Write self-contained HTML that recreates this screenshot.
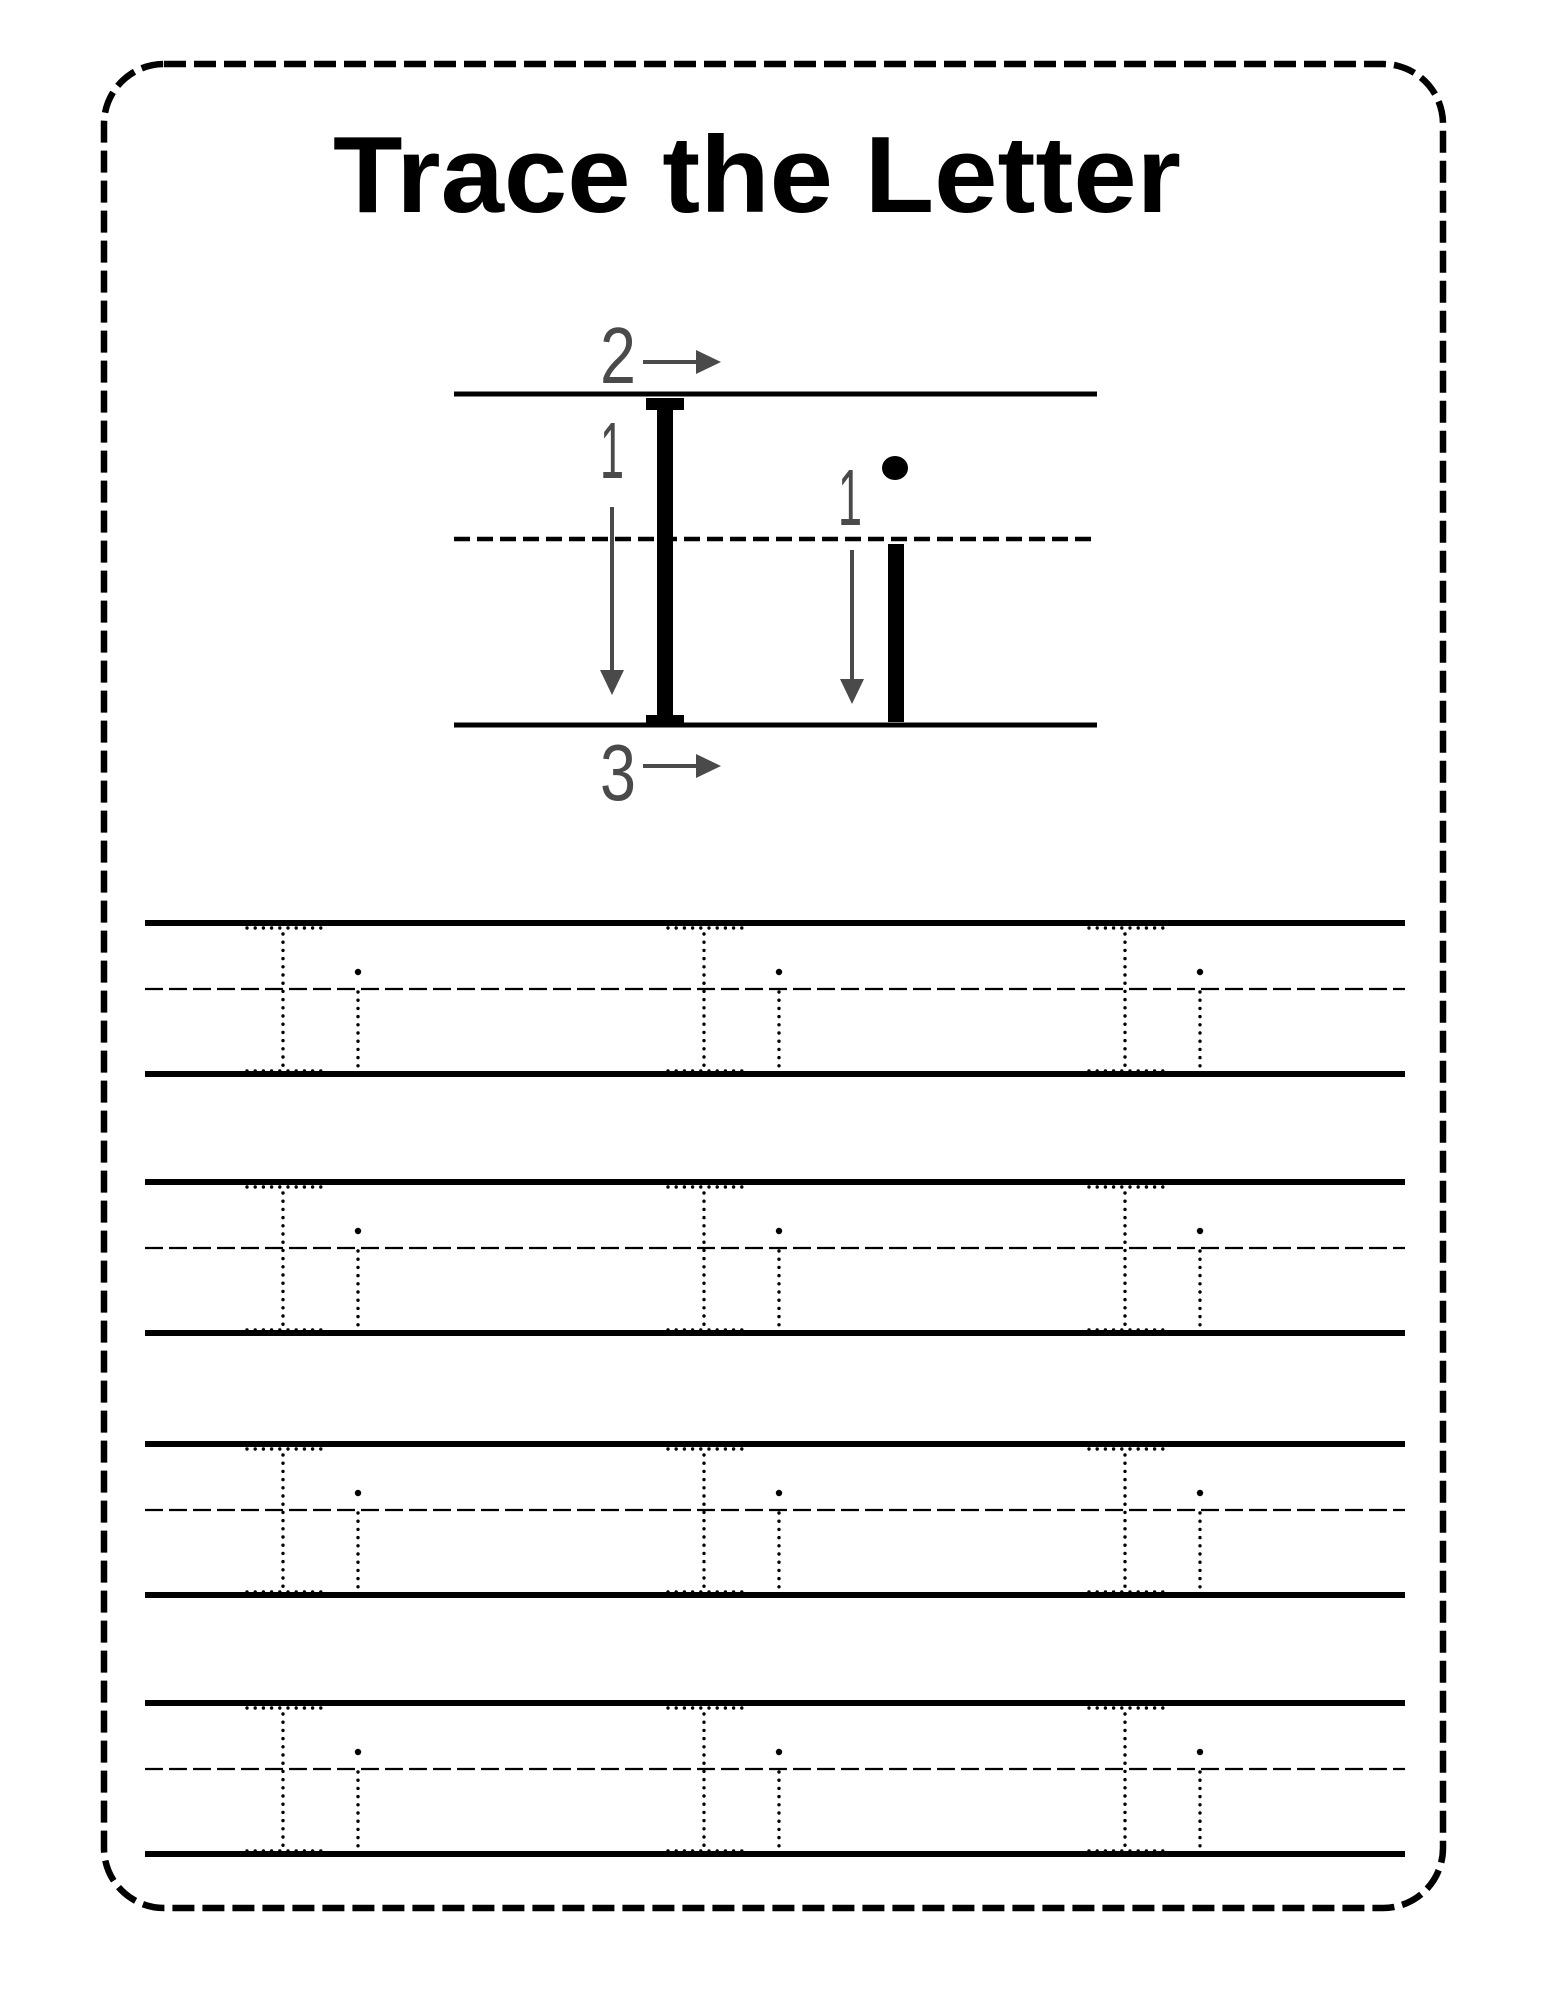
<!DOCTYPE html>
<html><head><meta charset="utf-8"><style>
html,body{margin:0;padding:0;background:#fff;}
svg{display:block;}
</style></head><body>
<svg id="page" width="1545" height="2000" viewBox="0 0 1545 2000" xmlns="http://www.w3.org/2000/svg">
<rect x="104" y="64" width="1339" height="1844" rx="60" ry="60" fill="none" stroke="#000" stroke-width="6.5" stroke-dasharray="22 8"/>
<text x="757" y="212" text-anchor="middle" font-family="Liberation Sans, sans-serif" font-weight="bold" font-size="109" textLength="848" lengthAdjust="spacingAndGlyphs">Trace the Letter</text>
<g>
<line x1="454" y1="394" x2="1097" y2="394" stroke="#000" stroke-width="5"/>
<line x1="454" y1="539" x2="1097" y2="539" stroke="#000" stroke-width="4.5" stroke-dasharray="16 7"/>
<line x1="454" y1="725" x2="1097" y2="725" stroke="#000" stroke-width="5"/>
<g fill="#000">
<rect x="646" y="398" width="38" height="12"/>
<rect x="657" y="404" width="16" height="316"/>
<rect x="646" y="715" width="38" height="10"/>
</g>
<g fill="#000">
<rect x="888" y="544" width="16" height="178"/>
<ellipse cx="895" cy="468" rx="13" ry="12"/>
</g>
<g fill="#4a4a4a" stroke="#4a4a4a" font-family="Liberation Sans, sans-serif" font-size="80">
<text x="600" y="383" stroke="none" textLength="36" lengthAdjust="spacingAndGlyphs">2</text>
<line x1="643" y1="362" x2="700" y2="362" stroke-width="4"/><polygon points="696,350 721,362 696,374" stroke="none"/>
<text x="600" y="478" stroke="none" textLength="24" lengthAdjust="spacingAndGlyphs">1</text>
<line x1="612" y1="507" x2="612" y2="675" stroke-width="4"/><polygon points="600,670 612,695 624,670" stroke="none"/>
<text x="838" y="525" stroke="none" textLength="24" lengthAdjust="spacingAndGlyphs">1</text>
<line x1="852" y1="550" x2="852" y2="684" stroke-width="4"/><polygon points="840,679 852,704 864,679" stroke="none"/>
<text x="600" y="800" stroke="none" textLength="36" lengthAdjust="spacingAndGlyphs">3</text>
<line x1="643" y1="766" x2="700" y2="766" stroke-width="4"/><polygon points="696,754 721,766 696,778" stroke="none"/>
</g>
</g>
<g id="practice"></g>
</svg>
<script>
const rowTops = [923, 1182, 1444, 1703];
const letterX = [283, 704, 1125];
const NS = 'http://www.w3.org/2000/svg';
const practice = document.getElementById('practice');
function mk(tag, attrs, parent) {
  const e = document.createElementNS(NS, tag);
  for (const k in attrs) e.setAttribute(k, attrs[k]);
  parent.appendChild(e);
  return e;
}
rowTops.forEach((top, ri) => {
  const bot = top + 151, mid = top + 66;
  const g = mk('g', {}, practice);
  
  
  const t = mk('line', {x1: 145, y1: top, x2: 1405, y2: top, stroke: '#000', 'stroke-width': 6}, g);
  
  
  const m = mk('line', {x1: 145, y1: mid, x2: 1405, y2: mid, stroke: '#000', 'stroke-width': 2.2, 'stroke-dasharray': '18 6'}, g);
  
  
  const b = mk('line', {x1: 145, y1: bot, x2: 1405, y2: bot, stroke: '#000', 'stroke-width': 6}, g);
  
  
  letterX.forEach((x) => {
    const lg = mk('g', {fill: 'none', stroke: '#000', 'stroke-width': 3.4, 'stroke-linecap': 'round', 'stroke-dasharray': '0 8.2'}, g);
    
    
    mk('line', {x1: x - 36, y1: top + 5, x2: x + 38, y2: top + 5}, lg);
    mk('line', {x1: x, y1: top + 11, x2: x, y2: bot - 5}, lg);
    mk('line', {x1: x - 36, y1: bot - 3, x2: x + 38, y2: bot - 3}, lg);
    mk('line', {x1: x + 75, y1: mid + 3, x2: x + 75, y2: bot - 3}, lg);
    const d = mk('circle', {cx: x + 75, cy: top + 49, r: 3.2, fill: '#000', stroke: 'none'}, g);
    
    
  });
});
</script>
</body></html>
